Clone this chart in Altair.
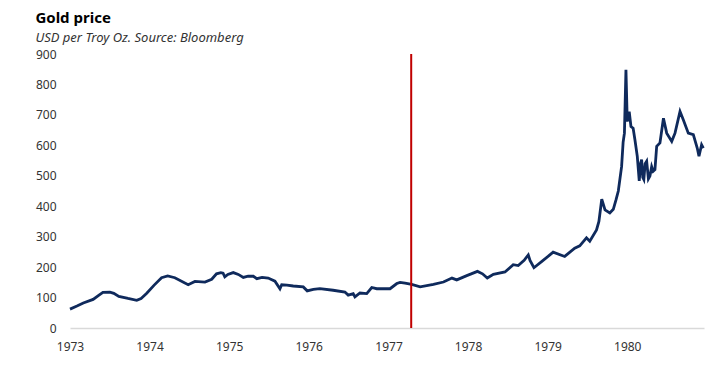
import altair as alt
import pandas as pd

dates = [
    "1973-01-01", "1973-02-02", "1973-03-03", "1973-04-17", "1973-05-14", "1973-06-01",
    "1973-07-03", "1973-07-21", "1973-08-13", "1973-09-24", "1973-11-03", "1973-11-23",
    "1973-12-19", "1974-01-21", "1974-02-25", "1974-03-25", "1974-04-27", "1974-06-27",
    "1974-07-28", "1974-09-12", "1974-10-13", "1974-11-04", "1974-11-24", "1974-12-04",
    "1974-12-12", "1974-12-26", "1975-01-20", "1975-02-12", "1975-03-07", "1975-03-29",
    "1975-04-22", "1975-05-08", "1975-06-01", "1975-06-29", "1975-07-30", "1975-08-22",
    "1975-08-30", "1975-09-23", "1975-10-22", "1975-12-07", "1975-12-25", "1976-01-22",
    "1976-02-21", "1976-04-22", "1976-06-15", "1976-06-30", "1976-07-23", "1976-07-31",
    "1976-08-23", "1976-09-23", "1976-10-16", "1976-11-08", "1977-01-08", "1977-02-08",
    "1977-02-23", "1977-03-18", "1977-04-17", "1977-05-26", "1977-07-26", "1977-09-10",
    "1977-10-19", "1977-11-10", "1977-12-26", "1978-02-13", "1978-03-08", "1978-03-30",
    "1978-04-27", "1978-06-19", "1978-07-27", "1978-08-19", "1978-09-15", "1978-10-04",
    "1978-10-12", "1978-10-30", "1978-12-04", "1979-01-11", "1979-01-26", "1979-03-20",
    "1979-05-05", "1979-05-28", "1979-06-28", "1979-07-13", "1979-08-13", "1979-08-24",
    "1979-09-06", "1979-09-21", "1979-10-13", "1979-10-29", "1979-11-10", "1979-11-21",
    "1979-12-06", "1979-12-13", "1979-12-19", "1979-12-26", "1980-01-01", "1980-01-10",
    "1980-01-18", "1980-01-28", "1980-02-05", "1980-02-16", "1980-02-25", "1980-03-02",
    "1980-03-07", "1980-03-12", "1980-03-17", "1980-03-23", "1980-03-30", "1980-04-07",
    "1980-04-14", "1980-04-22", "1980-04-29", "1980-05-07", "1980-05-15", "1980-05-30",
    "1980-06-15", "1980-06-30", "1980-07-23", "1980-08-07", "1980-08-30", "1980-09-14",
    "1980-10-07", "1980-10-30", "1980-11-17", "1980-11-25", "1980-12-07", "1980-12-15",
]
prices = [
    62, 72, 82, 94, 108, 117,
    118, 114, 104, 97, 91, 97,
    114, 140, 165, 171, 165, 142,
    153, 151, 160, 178, 182, 180,
    168, 176, 182, 176, 166, 170,
    170, 162, 166, 164, 154, 129,
    142, 141, 138, 135, 122, 127,
    129, 124, 118, 108, 113, 102,
    115, 113, 133, 129, 129, 146,
    150, 147, 143, 135, 143, 151,
    164, 158, 172, 186, 178, 164,
    176, 184, 208, 205, 222, 240,
    222, 198, 218, 240, 249, 235,
    262, 270, 296, 285, 322, 350,
    423, 388, 378, 390, 420, 450,
    530, 610, 640, 848, 678, 711,
    662, 656, 619, 564, 483, 540,
    553, 495, 488, 540, 548, 490,
    499, 530, 515, 520, 597, 608,
    689, 640, 613, 640, 711, 684,
    640, 635, 591, 564, 602, 591,
]

event_date = ["1977-04-15"]

x_domain = ["1973-01-01", "1980-12-18"]
y_ticks = [0, 100, 200, 300, 400, 500, 600, 700, 800, 900]

df = pd.DataFrame({"date": dates, "price": prices})
ev = pd.DataFrame({"date": event_date})

FONT = "Noto Sans"

x_enc = alt.X(
    "date:T",
    scale=alt.Scale(domain=x_domain),
    axis=alt.Axis(
        title=None, format="%Y", tickCount="year", ticks=False, grid=False,
        domainColor="#d9d9d9", domainWidth=1.5, labelFontSize=12, labelColor="#333333",
        labelPadding=13, labelFont=FONT, labelFlush=False,
    ),
)

line = alt.Chart(df).mark_line(color="#0f2a5c", strokeWidth=2.8).encode(
    x=x_enc,
    y=alt.Y(
        "price:Q",
        scale=alt.Scale(domain=[0, 900], nice=False),
        axis=alt.Axis(
            title=None, values=y_ticks, ticks=False, domain=False, grid=False,
            labelFontSize=12, labelColor="#333333", labelPadding=14, labelFont=FONT,
        ),
    ),
)

rule = alt.Chart(ev).mark_rule(color="#c00000", strokeWidth=2).encode(
    x="date:T"
)

chart = (
    alt.layer(line, rule)
    .properties(
        width=634,
        height=274,
        padding={"left": 62, "top": 46, "right": 12, "bottom": 30},
        autosize=alt.AutoSizeParams(type="none"),
        title=alt.Title(
            text="Gold price",
            subtitle="USD per Troy Oz. Source: Bloomberg",
            anchor="start",
            frame="bounds",
            font=FONT,
            fontSize=15,
            fontWeight="bold",
            color="#000000",
            subtitleFont=FONT,
            subtitleFontSize=13,
            subtitleFontStyle="italic",
            subtitleColor="#333333",
            subtitlePadding=6,
            offset=3,
        ),
    )
    .configure_view(stroke=None)
)

chart.save("out.html", embed_options={"renderer": "svg", "actions": False})
